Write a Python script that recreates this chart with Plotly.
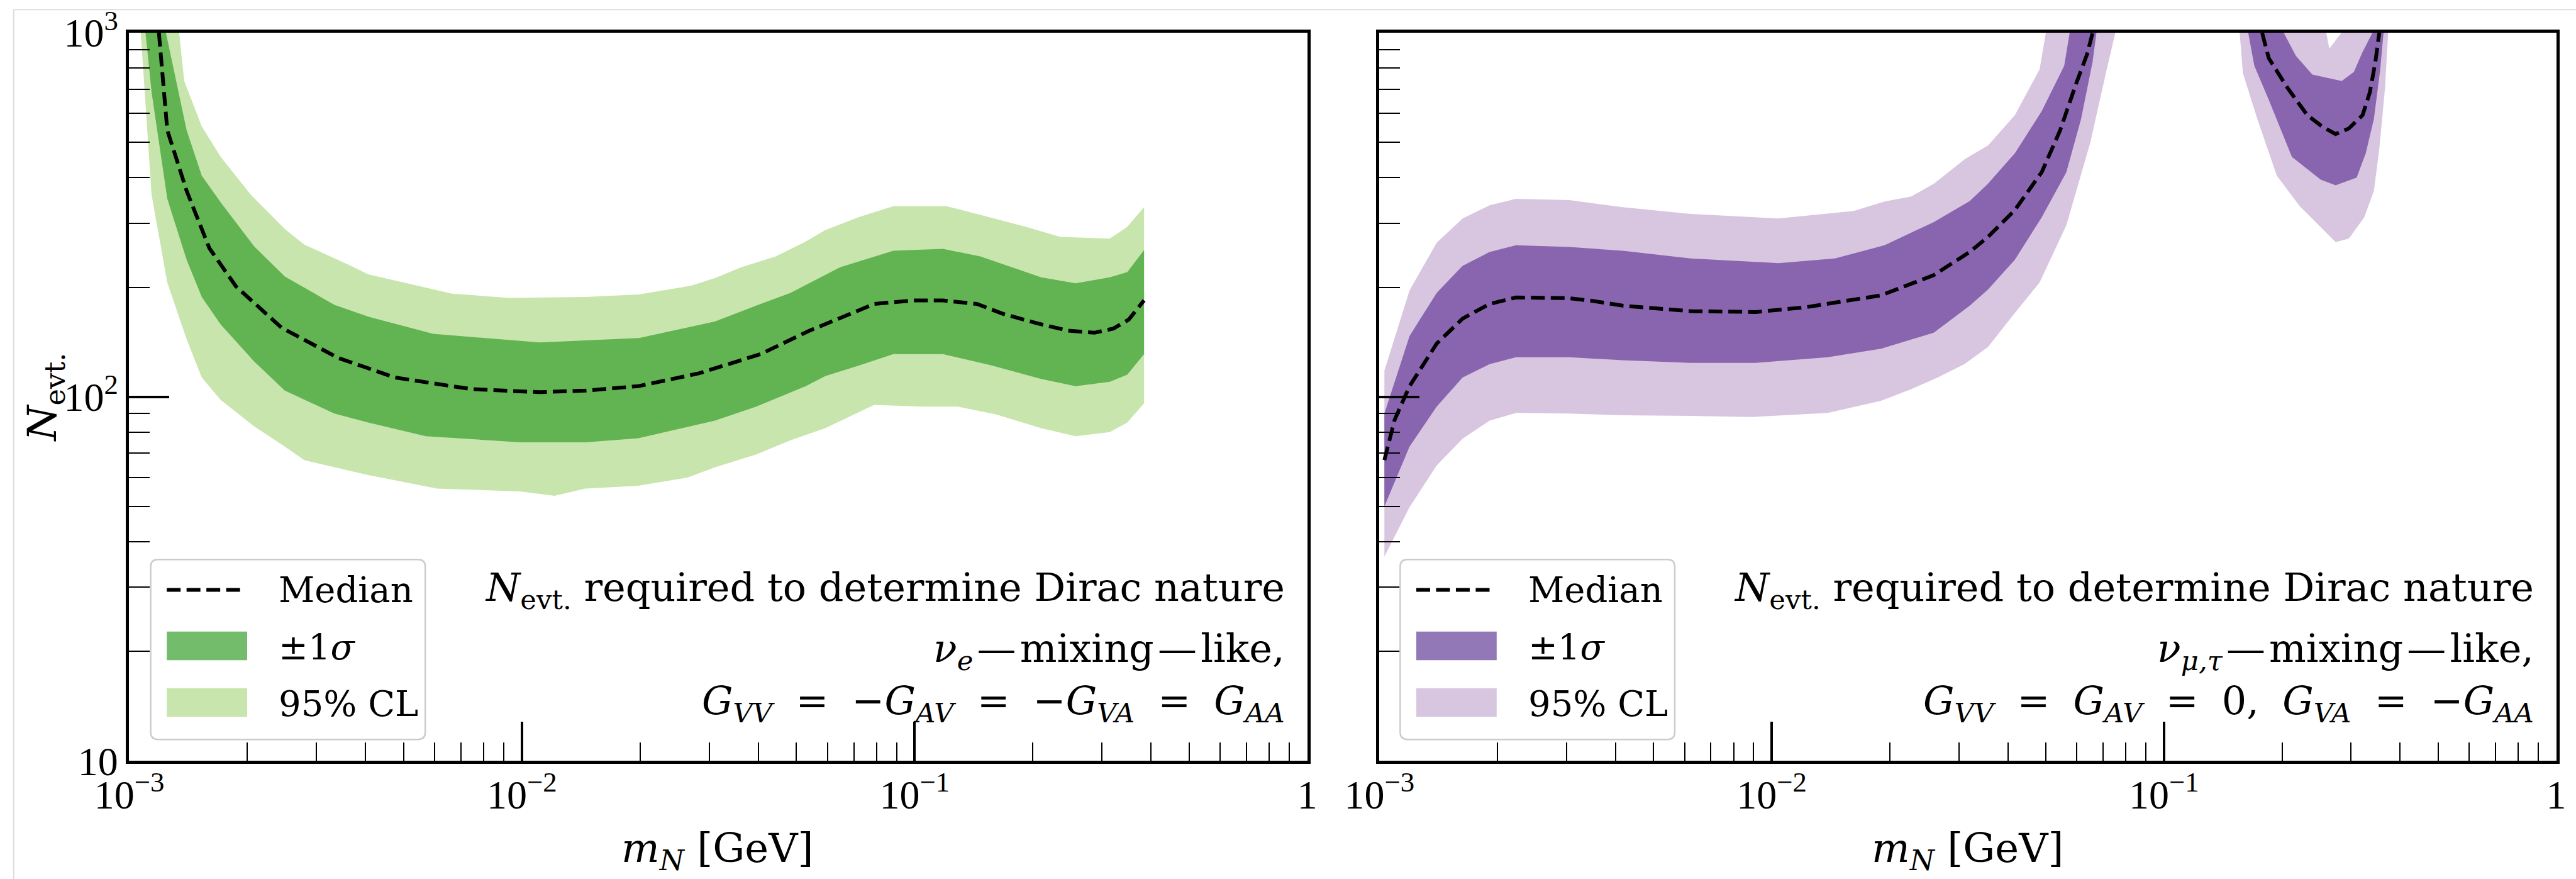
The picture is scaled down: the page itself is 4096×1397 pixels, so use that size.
import plotly.graph_objects as go

# ---------------- data: left panel (nu_e-mixing-like) ----------------
e_med_x = [1.19e-3, 1.25e-3, 1.40e-3, 1.60e-3, 1.87e-3, 2.44e-3, 3.40e-3, 4.75e-3, 7.43e-3, 1.11e-2, 1.45e-2,
           1.98e-2, 2.82e-2, 4.05e-2, 5.4e-2, 7.9e-2, 9.9e-2, 0.118, 0.144, 0.168, 0.206, 0.246, 0.287, 0.321,
           0.351, 0.384]
e_med_y = [1000, 540, 368, 256, 201, 155, 128, 113, 105, 103, 104, 107, 116, 131, 152, 180, 184, 184, 180, 169,
           159, 152, 150, 154, 163, 184]

e_s1_hi_x = [1.24e-3, 1.40e-3, 1.53e-3, 1.71e-3, 2.08e-3, 2.49e-3, 3.33e-3, 4.06e-3, 5.94e-3, 1.11e-2, 1.98e-2,
             3.1e-2, 3.95e-2, 4.83e-2, 6.46e-2, 8.83e-2, 0.118, 0.147, 0.210, 0.257, 0.314, 0.348, 0.384]
e_s1_hi_y = [1000, 540, 405, 342, 259, 214, 179, 166, 149, 141, 145, 161, 178, 193, 227, 252, 255, 243, 213, 205,
             213, 220, 253]
e_s1_lo_x = [1.10e-3, 1.14e-3, 1.25e-3, 1.40e-3, 1.53e-3, 1.71e-3, 2.08e-3, 2.49e-3, 3.33e-3, 4.06e-3, 5.69e-3,
             9.9e-3, 1.45e-2, 1.98e-2, 3.1e-2, 3.95e-2, 5.28e-2, 5.92e-2, 7.23e-2, 8.83e-2, 0.118, 0.157, 0.210,
             0.257, 0.314, 0.348, 0.384]
e_s1_lo_y = [1000, 687, 350, 238, 188, 158, 125, 104, 90, 85, 78, 75, 75, 77, 86, 94, 107, 114, 122, 131, 131,
             122, 112, 107, 110, 115, 131]

e_95_hi_x = [1.34e-3, 1.38e-3, 1.53e-3, 1.71e-3, 2.04e-3, 2.49e-3, 2.79e-3, 3.64e-3, 4.06e-3, 6.64e-3, 9.27e-3,
             1.45e-2, 1.98e-2, 2.70e-2, 3.1e-2, 3.62e-2, 4.43e-2, 5.28e-2, 5.92e-2, 7.23e-2, 8.83e-2, 0.1205,
             0.154, 0.192, 0.235, 0.314, 0.348, 0.384]
e_95_hi_y = [1000, 738, 553, 456, 359, 289, 262, 230, 217, 192, 187, 188, 191, 202, 212, 227, 243, 267, 287, 312,
             334, 334, 312, 293, 275, 272, 293, 332]
e_95_lo_x = [1.07e-3, 1.14e-3, 1.25e-3, 1.40e-3, 1.53e-3, 1.71e-3, 2.08e-3, 2.49e-3, 2.79e-3, 4.06e-3, 6.08e-3,
             9.9e-3, 1.21e-2, 1.45e-2, 1.98e-2, 2.64e-2, 3.1e-2, 3.95e-2, 4.83e-2, 5.92e-2, 7.89e-2, 0.1054,
             0.129, 0.161, 0.210, 0.257, 0.314, 0.348, 0.384]
e_95_lo_y = [1000, 359, 206, 144, 113, 98, 83, 73, 67, 61, 56, 55, 53.5, 56, 57, 60, 64, 69.5, 76, 82, 95, 94,
             94, 89.5, 82, 78, 80, 85, 96]

# ---------------- data: right panel (nu_mu,tau-mixing-like), low-mass branch ----------------
m_med_x = [1.03e-3, 1.094e-3, 1.194e-3, 1.40e-3, 1.63e-3, 1.91e-3, 2.23e-3, 3.05e-3, 3.48e-3, 4.17e-3, 6.22e-3,
           9.1e-3, 1.21e-2, 1.90e-2, 2.59e-2, 3.2e-2, 3.56e-2, 4.17e-2, 4.88e-2, 5.44e-2, 5.96e-2, 6.37e-2, 6.58e-2]
m_med_y = [67, 86.5, 107, 140, 164, 180, 187.5, 186.6, 183.6, 178, 172, 171, 176, 190, 216, 250, 275, 326, 414,
           540, 720, 873, 1000]

m_s1_hi_x = [1.03e-3, 1.194e-3, 1.40e-3, 1.63e-3, 1.91e-3, 2.23e-3, 3.05e-3, 4.17e-3, 6.22e-3, 1.04e-2, 1.45e-2,
             1.94e-2, 2.59e-2, 3.2e-2, 3.56e-2, 4.17e-2, 4.88e-2, 5.57e-2, 5.75e-2]
m_s1_hi_y = [90, 147, 193, 229, 250, 261, 258, 252, 240, 233, 240, 261, 302, 345, 385, 467, 609, 812, 1000]
m_s1_lo_x = [1.03e-3, 1.194e-3, 1.40e-3, 1.63e-3, 1.91e-3, 2.23e-3, 3.05e-3, 4.17e-3, 6.22e-3, 9.1e-3, 1.39e-2,
             1.90e-2, 2.59e-2, 3.2e-2, 3.56e-2, 4.17e-2, 4.88e-2, 5.64e-2, 6.15e-2, 6.58e-2, 6.73e-2]
m_s1_lo_y = [50, 73, 94, 113, 123, 128.5, 128.5, 126, 124, 124, 128.5, 135.6, 150, 178, 197, 238, 311, 414, 580,
             832, 1000]

m_95_hi_x = [1.03e-3, 1.194e-3, 1.40e-3, 1.63e-3, 1.91e-3, 2.23e-3, 3.05e-3, 4.17e-3, 6.22e-3, 1.04e-2, 1.62e-2,
             1.94e-2, 2.27e-2, 2.59e-2, 3.12e-2, 3.56e-2, 4.17e-2, 4.82e-2, 5.0e-2]
m_95_hi_y = [118, 196, 265, 309, 336, 350, 347, 332, 318, 309, 324, 344, 355, 385, 451, 490, 594, 793, 1000]
m_95_lo_x = [1.03e-3, 1.194e-3, 1.40e-3, 1.63e-3, 1.91e-3, 2.23e-3, 3.05e-3, 4.17e-3, 6.22e-3, 8.9e-3, 1.39e-2,
             1.90e-2, 2.27e-2, 2.65e-2, 3.1e-2, 3.56e-2, 4.17e-2, 4.82e-2, 5.64e-2, 6.50e-2, 7.11e-2, 7.52e-2]
m_95_lo_y = [36.4, 49.8, 64.8, 76.7, 86, 90.3, 90, 89, 88.6, 88, 90.3, 97.5, 105, 113, 123, 137, 170, 206, 296,
             502, 774, 1000]

# ---------------- data: right panel, high-mass (U-shaped) branch ----------------
m2_med_x = [0.178, 0.185, 0.207, 0.232, 0.253, 0.274, 0.296, 0.321, 0.335, 0.346, 0.354]
m2_med_y = [1000, 852, 703, 594, 553, 527, 546, 594, 687, 832, 1000]

m2_s1_out_x = [0.164, 0.170, 0.185, 0.212, 0.251, 0.274, 0.310, 0.327, 0.343, 0.356, 0.363]
m2_s1_out_y = [1000, 812, 655, 456, 395, 381, 400, 467, 580, 793, 1000]
m2_s1_in_x = [0.202, 0.217, 0.239, 0.284, 0.305, 0.320, 0.340]
m2_s1_in_y = [1000, 864, 768, 737, 781, 880, 1000]

m2_95_out_x = [0.156, 0.159, 0.173, 0.194, 0.222, 0.254, 0.274, 0.296, 0.324, 0.343, 0.354, 0.366, 0.373]
m2_95_out_y = [1000, 774, 580, 405, 334, 289, 266, 272, 311, 368, 479, 703, 1000]
m2_95_in_x = [0.2593, 0.264, 0.2835]
m2_95_in_y = [1000, 905, 1000]

# ---------------- axis ticks ----------------
x_tickvals = [1e-3, 1e-2, 1e-1, 1]
x_ticktext = ["10<sup>\u22123</sup>", "10<sup>\u22122</sup>", "10<sup>\u22121</sup>", "1"]
x_minor = [m * 10.0 ** e for e in (-3, -2, -1) for m in range(2, 10)]
y_tickvals = [10, 100, 1000]
y_ticktext = ["10", "10<sup>2</sup>", "10<sup>3</sup>"]
y_minor = [m * 10.0 ** e for e in (1, 2) for m in range(2, 10)]

# ---------------- styling ----------------
W, H = 4096, 1397
S = 0.947
TICKFONT = "Liberation Serif"
TEXTFONT = "DejaVu Serif"
G_DARK, G_LIGHT, G_LEG = "#62B352", "#C7E5AD", "#72BC6B"
P_DARK, P_LIGHT, P_LEG = "#8A65AF", "#D8C6E0", "#9378B8"
SP = "\u2002\u200a"  # math-like spacing around relations
DASH = "\u200a\u2014\u200a"


def fx(xf):
    return xf * S / W


def fy(yf):
    return 1 - yf * S / H


def band(xa, ya, xb, yb):
    """polygon: first boundary forward, second boundary reversed"""
    return list(xa) + list(xb)[::-1], list(ya) + list(yb)[::-1]


fig = go.Figure()


def add_poly(x, y, color, xa, ya):
    fig.add_trace(go.Scatter(x=x, y=y, mode="lines", fill="toself", fillcolor=color,
                             line=dict(width=0, color=color), hoverinfo="skip",
                             xaxis=xa, yaxis=ya, showlegend=False))


def add_median(x, y, xa, ya):
    fig.add_trace(go.Scatter(x=x, y=y, mode="lines", line=dict(color="black", width=6, dash="22px,9.5px"),
                             xaxis=xa, yaxis=ya, showlegend=False, name="Median"))


# left panel
add_poly(*band(e_95_hi_x, e_95_hi_y, e_95_lo_x, e_95_lo_y), G_LIGHT, "x", "y")
add_poly(*band(e_s1_hi_x, e_s1_hi_y, e_s1_lo_x, e_s1_lo_y), G_DARK, "x", "y")
add_median(e_med_x, e_med_y, "x", "y")

# right panel, low-mass branch
add_poly(*band(m_95_hi_x, m_95_hi_y, m_95_lo_x, m_95_lo_y), P_LIGHT, "x2", "y2")
add_poly(*band(m_s1_hi_x, m_s1_hi_y, m_s1_lo_x, m_s1_lo_y), P_DARK, "x2", "y2")
add_median(m_med_x, m_med_y, "x2", "y2")

# right panel, U-shaped branch
add_poly(*band(m2_95_out_x, m2_95_out_y, m2_95_in_x, m2_95_in_y), P_LIGHT, "x2", "y2")
add_poly(*band(m2_s1_out_x, m2_s1_out_y, m2_s1_in_x, m2_s1_in_y), P_DARK, "x2", "y2")
add_median(m2_med_x, m2_med_y, "x2", "y2")

tickfont = dict(family=TICKFONT, size=64, color="black")


def xaxis_cfg(dom, anchor):
    return dict(type="log", range=[-3, 0], domain=dom, anchor=anchor, automargin=False,
                showline=True, linecolor="black", linewidth=4.7, mirror=True,
                showgrid=False, zeroline=False,
                ticks="inside", ticklen=62, tickwidth=4.3, tickcolor="black",
                tickmode="array", tickvals=x_tickvals, ticktext=x_ticktext,
                tickfont=tickfont, ticklabelstandoff=-6,
                minor=dict(tickmode="array", tickvals=x_minor, ticks="inside", ticklen=29,
                           tickwidth=2.3, tickcolor="black", showgrid=False))


def yaxis_cfg(anchor, labels):
    return dict(type="log", range=[1, 3], domain=[fy(1277), fy(55)], anchor=anchor, automargin=False,
                showline=True, linecolor="black", linewidth=4.7, mirror=True,
                showgrid=False, zeroline=False,
                ticks="inside", ticklen=64, tickwidth=4.3, tickcolor="black",
                tickmode="array", tickvals=y_tickvals, ticktext=y_ticktext,
                showticklabels=labels, tickfont=tickfont, ticklabelstandoff=0,
                minor=dict(tickmode="array", tickvals=y_minor, ticks="inside", ticklen=33,
                           tickwidth=2.3, tickcolor="black", showgrid=False))


shapes = []
annotations = []


def rounded_box(x0, y0, x1, y1, r):
    L, R, T, B = fx(x0), fx(x1), fy(y0), fy(y1)
    rx, ry = r * S / W, r * S / H
    p = (f"M {L+rx},{T} L {R-rx},{T} Q {R},{T} {R},{T-ry} L {R},{B+ry} Q {R},{B} {R-rx},{B} "
         f"L {L+rx},{B} Q {L},{B} {L},{B+ry} L {L},{T-ry} Q {L},{T} {L+rx},{T} Z")
    return dict(type="path", path=p, xref="paper", yref="paper", fillcolor="white",
                line=dict(color="#cccccc", width=2.5), layer="above")


def legend(dx, dark, light):
    shapes.append(rounded_box(253 + dx, 939, 714 + dx, 1241, 12))
    shapes.append(dict(type="line", xref="paper", yref="paper", x0=fx(280 + dx), x1=fx(413 + dx),
                       y0=fy(990), y1=fy(990), line=dict(color="black", width=6, dash="22px,9.5px")))
    shapes.append(dict(type="rect", xref="paper", yref="paper", x0=fx(280 + dx), x1=fx(415 + dx),
                       y0=fy(1108), y1=fy(1060), fillcolor=dark, line=dict(width=0)))
    shapes.append(dict(type="rect", xref="paper", yref="paper", x0=fx(280 + dx), x1=fx(415 + dx),
                       y0=fy(1203), y1=fy(1155), fillcolor=light, line=dict(width=0)))
    for txt, yc in (("Median", 990), ("\u00b11<i>\u03c3</i>", 1086), ("95% CL", 1181)):
        annotations.append(dict(text=txt, xref="paper", yref="paper", x=fx(466 + dx), y=fy(yc),
                                xanchor="left", yanchor="middle", showarrow=False,
                                font=dict(family=TEXTFONT, size=56, color="black")))


def text_block(xr, lines):
    for txt, yc in zip(lines, (990, 1092, 1180)):
        annotations.append(dict(text=txt, xref="paper", yref="paper", x=fx(xr), y=fy(yc),
                                xanchor="right", yanchor="middle", showarrow=False,
                                font=dict(family=TEXTFONT, size=62, color="black")))


legend(0, G_LEG, G_LIGHT)
legend(2098, P_LEG, P_LIGHT)

nevt = "<i>N</i><sub>evt.</sub>"
eq = SP + "=" + SP
text_block(2159, [nevt + " required to determine Dirac nature",
                  "<i>\u03bd<sub>e</sub></i>" + DASH + "mixing" + DASH + "like,",
                  "<i>G<sub>VV</sub></i>" + eq + "\u2212<i>G<sub>AV</sub></i>" + eq +
                  "\u2212<i>G<sub>VA</sub></i>" + eq + "<i>G<sub>AA</sub></i>"])
text_block(4257, [nevt + " required to determine Dirac nature",
                  "<i>\u03bd<sub>\u03bc,\u03c4</sub></i>" + DASH + "mixing" + DASH + "like,",
                  "<i>G<sub>VV</sub></i>" + eq + "<i>G<sub>AV</sub></i>" + eq + "0," + SP +
                  "<i>G<sub>VA</sub></i>" + eq + "\u2212<i>G<sub>AA</sub></i>"])

# axis titles
for xc in (1204, 3304):
    annotations.append(dict(text="<i>m<sub>N</sub></i> [GeV]", xref="paper", yref="paper",
                            x=fx(xc), y=fy(1428), xanchor="center", yanchor="middle", showarrow=False,
                            font=dict(family=TEXTFONT, size=64, color="black")))
annotations.append(dict(text=nevt, xref="paper", yref="paper", x=fx(76), y=fy(667), textangle=-90,
                        xanchor="center", yanchor="middle", showarrow=False,
                        font=dict(family=TEXTFONT, size=64, color="black")))

# faint page frame (top and left edges)
shapes.append(dict(type="line", xref="paper", yref="paper", x0=fx(23), x1=1, y0=fy(16), y1=fy(16),
                   line=dict(color="#dcdcdc", width=2), layer="below"))
shapes.append(dict(type="line", xref="paper", yref="paper", x0=fx(23), x1=fx(23), y0=0, y1=fy(16),
                   line=dict(color="#dcdcdc", width=2), layer="below"))

fig.update_layout(
    width=W, height=H, margin=dict(l=0, r=0, t=0, b=0, autoexpand=False),
    paper_bgcolor="white", plot_bgcolor="white", showlegend=False,
    xaxis=xaxis_cfg([fx(217), fx(2195)], "y"),
    yaxis=yaxis_cfg("x", True),
    xaxis2=xaxis_cfg([fx(2316), fx(4292)], "y2"),
    yaxis2=yaxis_cfg("x2", False),
    shapes=shapes, annotations=annotations,
)

fig.write_html("out.html")
